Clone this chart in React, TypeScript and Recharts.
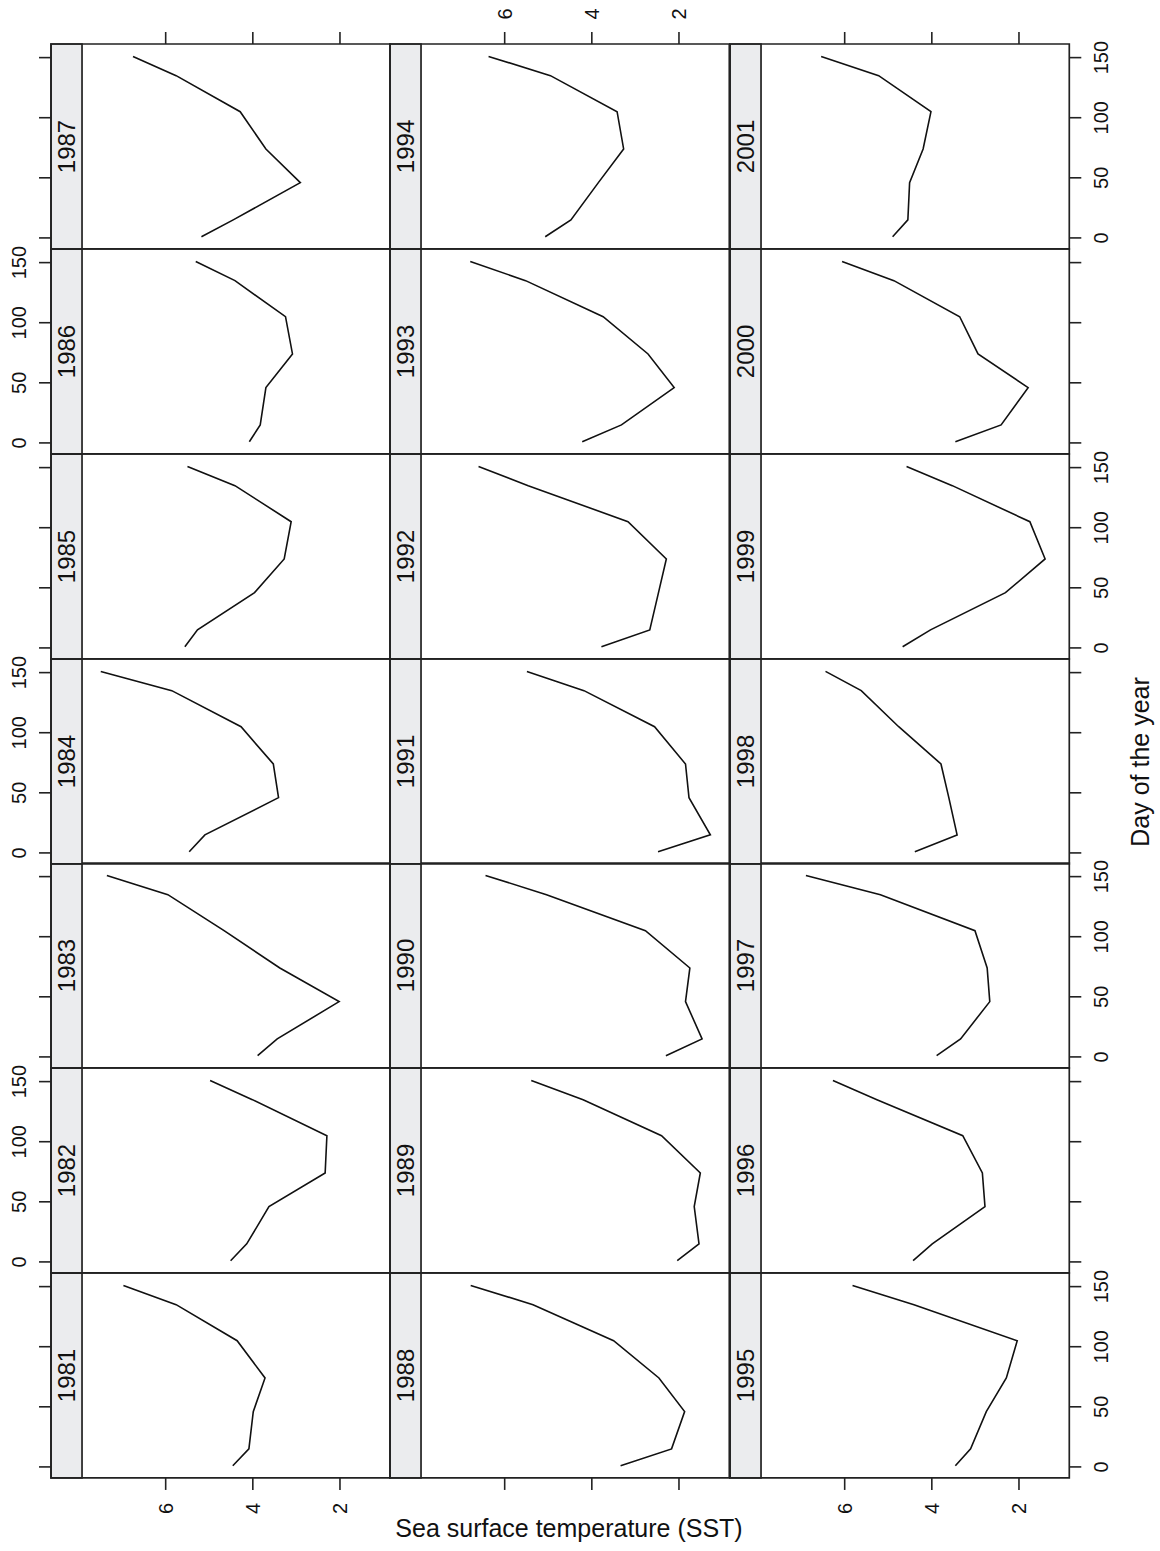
import { LineChart, Line, XAxis, YAxis, ReferenceArea } from "recharts";

// day of year of each reading
const DAYS = [1, 15, 46, 74, 105, 135, 151];

// sea surface temperature per year, one value per day above
const sst1981 = [4.46, 4.09, 3.99, 3.72, 4.36, 5.76, 6.97];
const sst1982 = [4.51, 4.14, 3.63, 2.34, 2.3, 4.01, 4.98];
const sst1983 = [3.89, 3.44, 2.02, 3.38, 4.66, 5.95, 7.35];
const sst1984 = [5.46, 5.1, 3.41, 3.53, 4.27, 5.86, 7.49];
const sst1985 = [5.56, 5.27, 3.96, 3.28, 3.12, 4.41, 5.5];
const sst1986 = [4.08, 3.83, 3.7, 3.09, 3.25, 4.41, 5.31];
const sst1987 = [5.18, 4.45, 2.91, 3.7, 4.29, 5.76, 6.75];
const sst1988 = [3.34, 2.17, 1.87, 2.46, 3.5, 5.35, 6.78];
const sst1989 = [2.04, 1.54, 1.65, 1.51, 2.4, 4.2, 5.39];
const sst1990 = [2.3, 1.47, 1.85, 1.75, 2.77, 5.04, 6.44];
const sst1991 = [2.48, 1.28, 1.77, 1.85, 2.56, 4.18, 5.49];
const sst1992 = [3.78, 2.67, 2.47, 2.29, 3.17, 5.46, 6.6];
const sst1993 = [4.22, 3.32, 2.11, 2.71, 3.74, 5.52, 6.79];
const sst1994 = [5.07, 4.48, 3.85, 3.27, 3.42, 4.95, 6.37];
const sst1995 = [3.46, 3.11, 2.75, 2.29, 2.04, 4.41, 5.82];
const sst1996 = [4.43, 3.99, 2.78, 2.84, 3.29, 5.26, 6.27];
const sst1997 = [3.89, 3.34, 2.67, 2.73, 3.01, 5.18, 6.89];
const sst1998 = [4.39, 3.42, 3.61, 3.79, 4.76, 5.62, 6.44];
const sst1999 = [4.67, 4.03, 2.31, 1.4, 1.75, 3.53, 4.58];
const sst2000 = [3.46, 2.41, 1.79, 2.94, 3.36, 4.87, 6.06];
const sst2001 = [4.9, 4.55, 4.51, 4.2, 4.02, 5.22, 6.54];

const YEARS = [
  1981, 1982, 1983, 1984, 1985, 1986, 1987, 1988, 1989, 1990, 1991, 1992,
  1993, 1994, 1995, 1996, 1997, 1998, 1999, 2000, 2001,
];
const SERIES = [
  sst1981, sst1982, sst1983, sst1984, sst1985, sst1986, sst1987, sst1988,
  sst1989, sst1990, sst1991, sst1992, sst1993, sst1994, sst1995, sst1996,
  sst1997, sst1998, sst1999, sst2000, sst2001,
];

const SST_TICKS = [2, 4, 6];
const DAY_TICKS = [0, 50, 100, 150];

// panel geometry
const PANEL_X0 = 51;
const PANEL_Y0 = 43.7;
const PANEL_W = 339.3;
const PANEL_H = 204.94;
const AXIS_W = 60;
const AXIS_H = 45;

// SST axis runs right to left, strip sits at the high end
const SST_HIGH = 8.632;
const SST_LOW = 0.845;
const STRIP_EDGE = 7.92;
const DAY_LOW = -9.17;
const DAY_HIGH = 161.33;

const INK = "#222";
const FONT = "'Liberation Sans', Arial, Helvetica, sans-serif";

function rotatedTick(show: boolean, place: (p: any) => [number, number]) {
  return (props: any) => {
    if (!show) return <g />;
    const [tx, ty] = place(props);
    return (
      <text
        x={0}
        y={0}
        transform={`translate(${tx},${ty}) rotate(-90)`}
        textAnchor="middle"
        dominantBaseline="central"
        fontSize={20}
        fontFamily={FONT}
        fill="#111"
      >
        {props.payload.value}
      </text>
    );
  };
}

function Panel({ idx }: { idx: number }) {
  const col = Math.floor(idx / 7);
  const row = 6 - (idx % 7);
  const data = DAYS.map((d, k) => ({ day: d, sst: SERIES[idx][k] }));

  const L = col === 0 ? AXIS_W : 0;
  const R = col === 2 ? AXIS_W : 0;
  const T = row === 0 ? AXIS_H : 0;
  const B = row === 6 ? AXIS_H : 0;

  const xLabels = row === 0 ? col === 1 : col !== 1;
  const yLabels = col === 0 ? row % 2 === 1 : row % 2 === 0;

  return (
    <div
      style={{
        position: "absolute",
        left: PANEL_X0 + col * PANEL_W - L,
        top: PANEL_Y0 + row * PANEL_H - T,
      }}
    >
      <LineChart
        width={PANEL_W + L + R}
        height={PANEL_H + T + B}
        data={data}
        margin={{ top: 0, right: 0, bottom: 0, left: 0 }}
        style={{ overflow: "visible" }}
      >
        <XAxis
          type="number"
          dataKey="sst"
          domain={[SST_LOW, SST_HIGH]}
          reversed
          allowDataOverflow
          ticks={SST_TICKS}
          interval={0}
          orientation={row === 0 ? "top" : "bottom"}
          hide={row !== 0 && row !== 6}
          height={AXIS_H}
          tickSize={12}
          axisLine={false}
          tickLine={{ stroke: INK, strokeWidth: 1.6 }}
          tick={rotatedTick(xLabels, (p) => [
            p.x,
            row === 0 ? T - 30 : PANEL_H + 30.5,
          ])}
        />
        <YAxis
          type="number"
          domain={[DAY_LOW, DAY_HIGH]}
          allowDataOverflow
          ticks={DAY_TICKS}
          interval={0}
          orientation={col === 2 ? "right" : "left"}
          hide={col === 1}
          width={AXIS_W}
          tickSize={12}
          axisLine={false}
          tickLine={{ stroke: INK, strokeWidth: 1.6 }}
          tick={rotatedTick(yLabels, (p) => [
            col === 0 ? L - 32 : PANEL_W + 32,
            p.y,
          ])}
        />
        <ReferenceArea
          x1={SST_HIGH}
          x2={STRIP_EDGE}
          y1={DAY_LOW}
          y2={DAY_HIGH}
          fill="#ebecee"
          fillOpacity={1}
          stroke={INK}
          strokeWidth={1.7}
          ifOverflow="visible"
          label={{
            value: String(YEARS[idx]),
            position: "center",
            angle: -90,
            fontSize: 24,
            fontFamily: FONT,
            fill: "#111",
          }}
        />
        <ReferenceArea
          x1={SST_HIGH}
          x2={SST_LOW}
          y1={DAY_LOW}
          y2={DAY_HIGH}
          fill="none"
          fillOpacity={0}
          stroke={INK}
          strokeWidth={1.7}
          ifOverflow="visible"
        />
        <Line
          dataKey="day"
          stroke="#111"
          strokeWidth={1.6}
          dot={false}
          isAnimationActive={false}
        />
      </LineChart>
    </div>
  );
}

export default function App() {
  return (
    <div
      style={{
        position: "absolute",
        left: 0,
        top: 0,
        width: 1160,
        height: 1551,
        background: "#fff",
        fontFamily: FONT,
      }}
    >
      <style>{".recharts-surface{overflow:visible}"}</style>
      {YEARS.map((y, i) => (
        <Panel key={y} idx={i} />
      ))}
      <div
        style={{
          position: "absolute",
          left: 569,
          top: 1528,
          transform: "translate(-50%, -50%)",
          whiteSpace: "nowrap",
          fontSize: 25,
          lineHeight: 1,
          color: "#111",
        }}
      >
        Sea surface temperature (SST)
      </div>
      <div
        style={{
          position: "absolute",
          left: 1140,
          top: 762,
          transform: "translate(-50%, -50%) rotate(-90deg)",
          whiteSpace: "nowrap",
          fontSize: 25,
          lineHeight: 1,
          color: "#111",
        }}
      >
        Day of the year
      </div>
    </div>
  );
}
